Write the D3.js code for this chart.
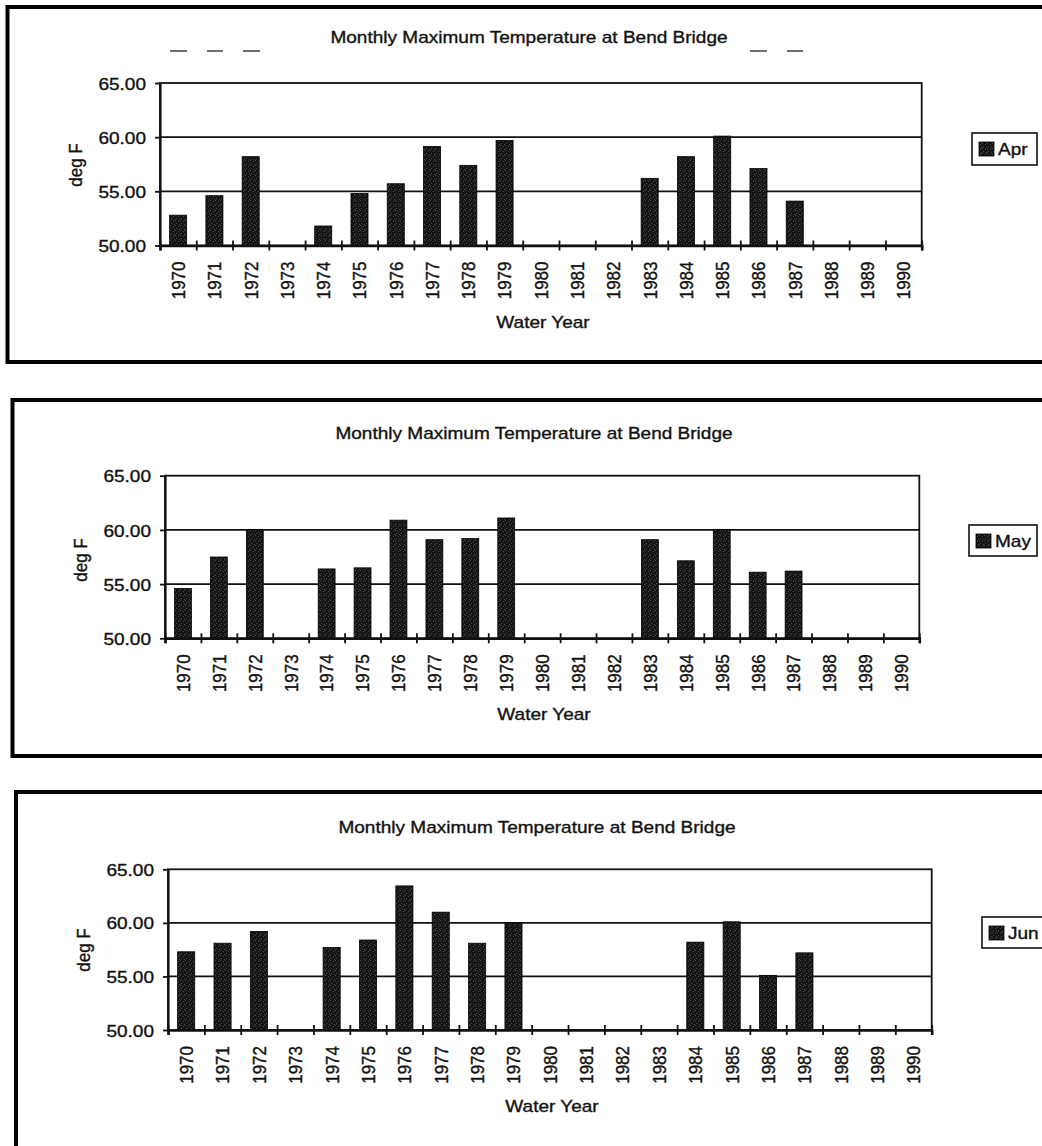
<!DOCTYPE html>
<html>
<head>
<meta charset="utf-8">
<script src="https://cdn.jsdelivr.net/npm/d3@7"></script>
<style>
  html, body { margin: 0; padding: 0; background: #fff; }
  svg { display: block; }
  text { font-family: "Liberation Sans", Arial, Helvetica, sans-serif; fill: #111; stroke: #111; stroke-width: 0.35px; }
</style>
</head>
<body>
<svg id="chart" width="1042" height="1146"></svg>
<script>
// Water years on the category axis
const years = ["1970","1971","1972","1973","1974","1975","1976","1977","1978","1979",
               "1980","1981","1982","1983","1984","1985","1986","1987","1988","1989","1990"];

// Monthly maximum temperature (deg F); null = no record for that year
const aprMax = [52.8, 54.6, 58.2, null, 51.8, 54.8, 55.7, 59.15, 57.4, 59.7,
                null, null, null, 56.2, 58.2, 60.1, 57.1, 54.1, null, null, null];
const mayMax = [54.6, 57.5, 60.0, null, 56.4, 56.5, 60.9, 59.1, 59.2, 61.1,
                null, null, null, 59.1, 57.15, 60.05, 56.1, 56.2, null, null, null];
const junMax = [57.3, 58.1, 59.2, null, 57.7, 58.4, 63.45, 61.0, 58.1, 60.0,
                null, null, null, null, 58.2, 60.1, 55.1, 57.2, null, null, null];

const yTicks = [50, 55, 60, 65];
const yDomain = [50, 65];
const chartTitle = "Monthly Maximum Temperature at Bend Bridge";
const yAxisTitle = "deg F";
const xAxisTitle = "Water Year";

// Page layout of the three stacked chart panels
const panels = [
  { name: "Apr", values: aprMax,
    frame: { x: 7.5, top: 7, bottom: 362 },
    plot: { x0: 160, x1: 921.7, y0: 83, y1: 245.5 },
    title: { x: 529, y: 43 }, yLab: { x: 75, y: 165 }, xLab: { x: 543, y: 328 },
    legend: { x: 972, y: 133, w: 65, h: 32 },
    dashes: [[170,187],[207,223],[243,260],[750,767],[787,803]], dashY: 51 },
  { name: "May", values: mayMax,
    frame: { x: 12.5, top: 400, bottom: 756 },
    plot: { x0: 165, x1: 919.3, y0: 475.7, y1: 638.3 },
    title: { x: 534, y: 439 }, yLab: { x: 80, y: 560 }, xLab: { x: 544, y: 720 },
    legend: { x: 969, y: 525, w: 68, h: 31 } },
  { name: "Jun", values: junMax,
    frame: { x: 16, top: 792, bottom: null },
    plot: { x0: 168, x1: 931.7, y0: 869.3, y1: 1030 },
    title: { x: 537, y: 833 }, yLab: { x: 83, y: 950 }, xLab: { x: 552, y: 1112 },
    legend: { x: 982, y: 917, w: 70, h: 31 } }
];

const FONT = 17;     // px
const SX = 1.12;     // horizontal stretch of the lettering

const svg = d3.select("#chart");

// Stippled dark fill used by the bars
const defs = svg.append("defs");
const pat = defs.append("pattern").attr("id", "stipple")
  .attr("patternUnits", "userSpaceOnUse").attr("width", 5).attr("height", 5);
pat.append("rect").attr("width", 5).attr("height", 5).attr("fill", "#141414");
[[0,0],[3,1],[1,3],[4,4]].forEach(([x, y]) =>
  pat.append("rect").attr("x", x).attr("y", y).attr("width", 1).attr("height", 1).attr("fill", "#4c4c4c"));

function stretchedText(g, x, y, txt, anchor, rotate) {
  return g.append("text")
    .attr("transform", `translate(${x},${y}) scale(${SX},1)` + (rotate ? ` rotate(${rotate})` : ""))
    .attr("text-anchor", anchor)
    .attr("font-size", FONT)
    .text(txt);
}

panels.forEach(p => {
  const g = svg.append("g");
  const W = 1042, H = 1146;

  // Outer panel frame (open on the right edge)
  const f = p.frame;
  let d = `M${W + 10},${f.top} L${f.x},${f.top} L${f.x},${f.bottom == null ? H + 10 : f.bottom}`;
  if (f.bottom != null) d += ` L${W + 10},${f.bottom}`;
  g.append("path").attr("d", d).attr("fill", "none").attr("stroke", "#000").attr("stroke-width", 4);

  const { x0, x1, y0, y1 } = p.plot;
  const x = d3.scaleBand().domain(years).range([x0, x1]).paddingInner(0.53).paddingOuter(0.265);
  const xEdge = d3.scaleLinear().domain([0, years.length]).range([x0, x1]);
  const y = d3.scaleLinear().domain(yDomain).range([y1, y0]);

  // Horizontal gridlines
  g.append("g").selectAll("line").data(yTicks.filter(t => t > yDomain[0] && t < yDomain[1]))
    .join("line")
    .attr("x1", x0).attr("x2", x1).attr("y1", d => y(d)).attr("y2", d => y(d))
    .attr("stroke", "#111").attr("stroke-width", 1.8);

  // Plot area border
  g.append("rect").attr("x", x0).attr("y", y0).attr("width", x1 - x0).attr("height", y1 - y0)
    .attr("fill", "none").attr("stroke", "#111").attr("stroke-width", 1.8);

  // Bars
  g.append("g").selectAll("rect")
    .data(years.map((yr, i) => ({ yr, v: p.values[i] })).filter(d => d.v != null))
    .join("rect")
    .attr("x", d => x(d.yr)).attr("width", x.bandwidth())
    .attr("y", d => y(d.v)).attr("height", d => y(yDomain[0]) - y(d.v))
    .attr("fill", "url(#stipple)").attr("stroke", "#000").attr("stroke-width", 0.8);

  // Y axis
  const ya = g.append("g").attr("transform", `translate(${x0},0)`)
    .call(d3.axisLeft(y).tickValues(yTicks).tickSizeInner(5).tickSizeOuter(0).tickFormat(d3.format(".2f")));
  ya.select(".domain").attr("stroke", "#111").attr("stroke-width", 2.2);
  ya.selectAll(".tick line").attr("stroke", "#111").attr("stroke-width", 1.8);
  ya.selectAll(".tick text")
    .attr("x", null).attr("dy", "0.36em")
    .attr("transform", `translate(-14,0) scale(${SX},1)`)
    .attr("font-size", FONT).attr("font-family", null).attr("fill", "#111").attr("text-anchor", "end");

  // X axis: cross ticks on category boundaries
  const xt = g.append("g").attr("transform", `translate(0,${y1})`)
    .call(d3.axisBottom(xEdge).tickValues(d3.range(years.length + 1)).tickSize(5).tickFormat(""));
  xt.select(".domain").attr("stroke", "#111").attr("stroke-width", 2.6);
  xt.selectAll(".tick line").attr("y1", -5).attr("y2", 5).attr("stroke", "#111").attr("stroke-width", 1.8);

  // X axis: rotated year labels centred on each category
  const xl = g.append("g").attr("transform", `translate(0,${y1})`)
    .call(d3.axisBottom(x).tickSize(0));
  xl.select(".domain").remove();
  xl.selectAll(".tick text")
    .attr("y", null).attr("dy", "0.36em")
    .attr("transform", `translate(0,16) scale(${SX},1) rotate(-90)`)
    .attr("font-size", FONT).attr("font-family", null).attr("fill", "#111").attr("text-anchor", "end");

  // Titles
  stretchedText(g, p.title.x, p.title.y, chartTitle, "middle");
  stretchedText(g, p.xLab.x, p.xLab.y, xAxisTitle, "middle");
  stretchedText(g, p.yLab.x, p.yLab.y, yAxisTitle, "middle", -90).attr("dy", "0.36em");

  if (p.dashes) {
    g.append("g").selectAll("line").data(p.dashes).join("line")
      .attr("x1", d => d[0]).attr("x2", d => d[1]).attr("y1", p.dashY).attr("y2", p.dashY)
      .attr("stroke", "#222").attr("stroke-width", 1.3);
  }

  // Legend
  const L = p.legend;
  const lg = g.append("g").attr("transform", `translate(${L.x},${L.y})`);
  lg.append("rect").attr("width", L.w).attr("height", L.h)
    .attr("fill", "#fff").attr("stroke", "#111").attr("stroke-width", 1.6);
  lg.append("rect").attr("x", 7).attr("y", 9).attr("width", 15).attr("height", 14)
    .attr("fill", "url(#stipple)").attr("stroke", "#000").attr("stroke-width", 0.8);
  stretchedText(lg, 26, L.h / 2, p.name, "start").attr("dy", "0.36em");
});
</script>
</body>
</html>
